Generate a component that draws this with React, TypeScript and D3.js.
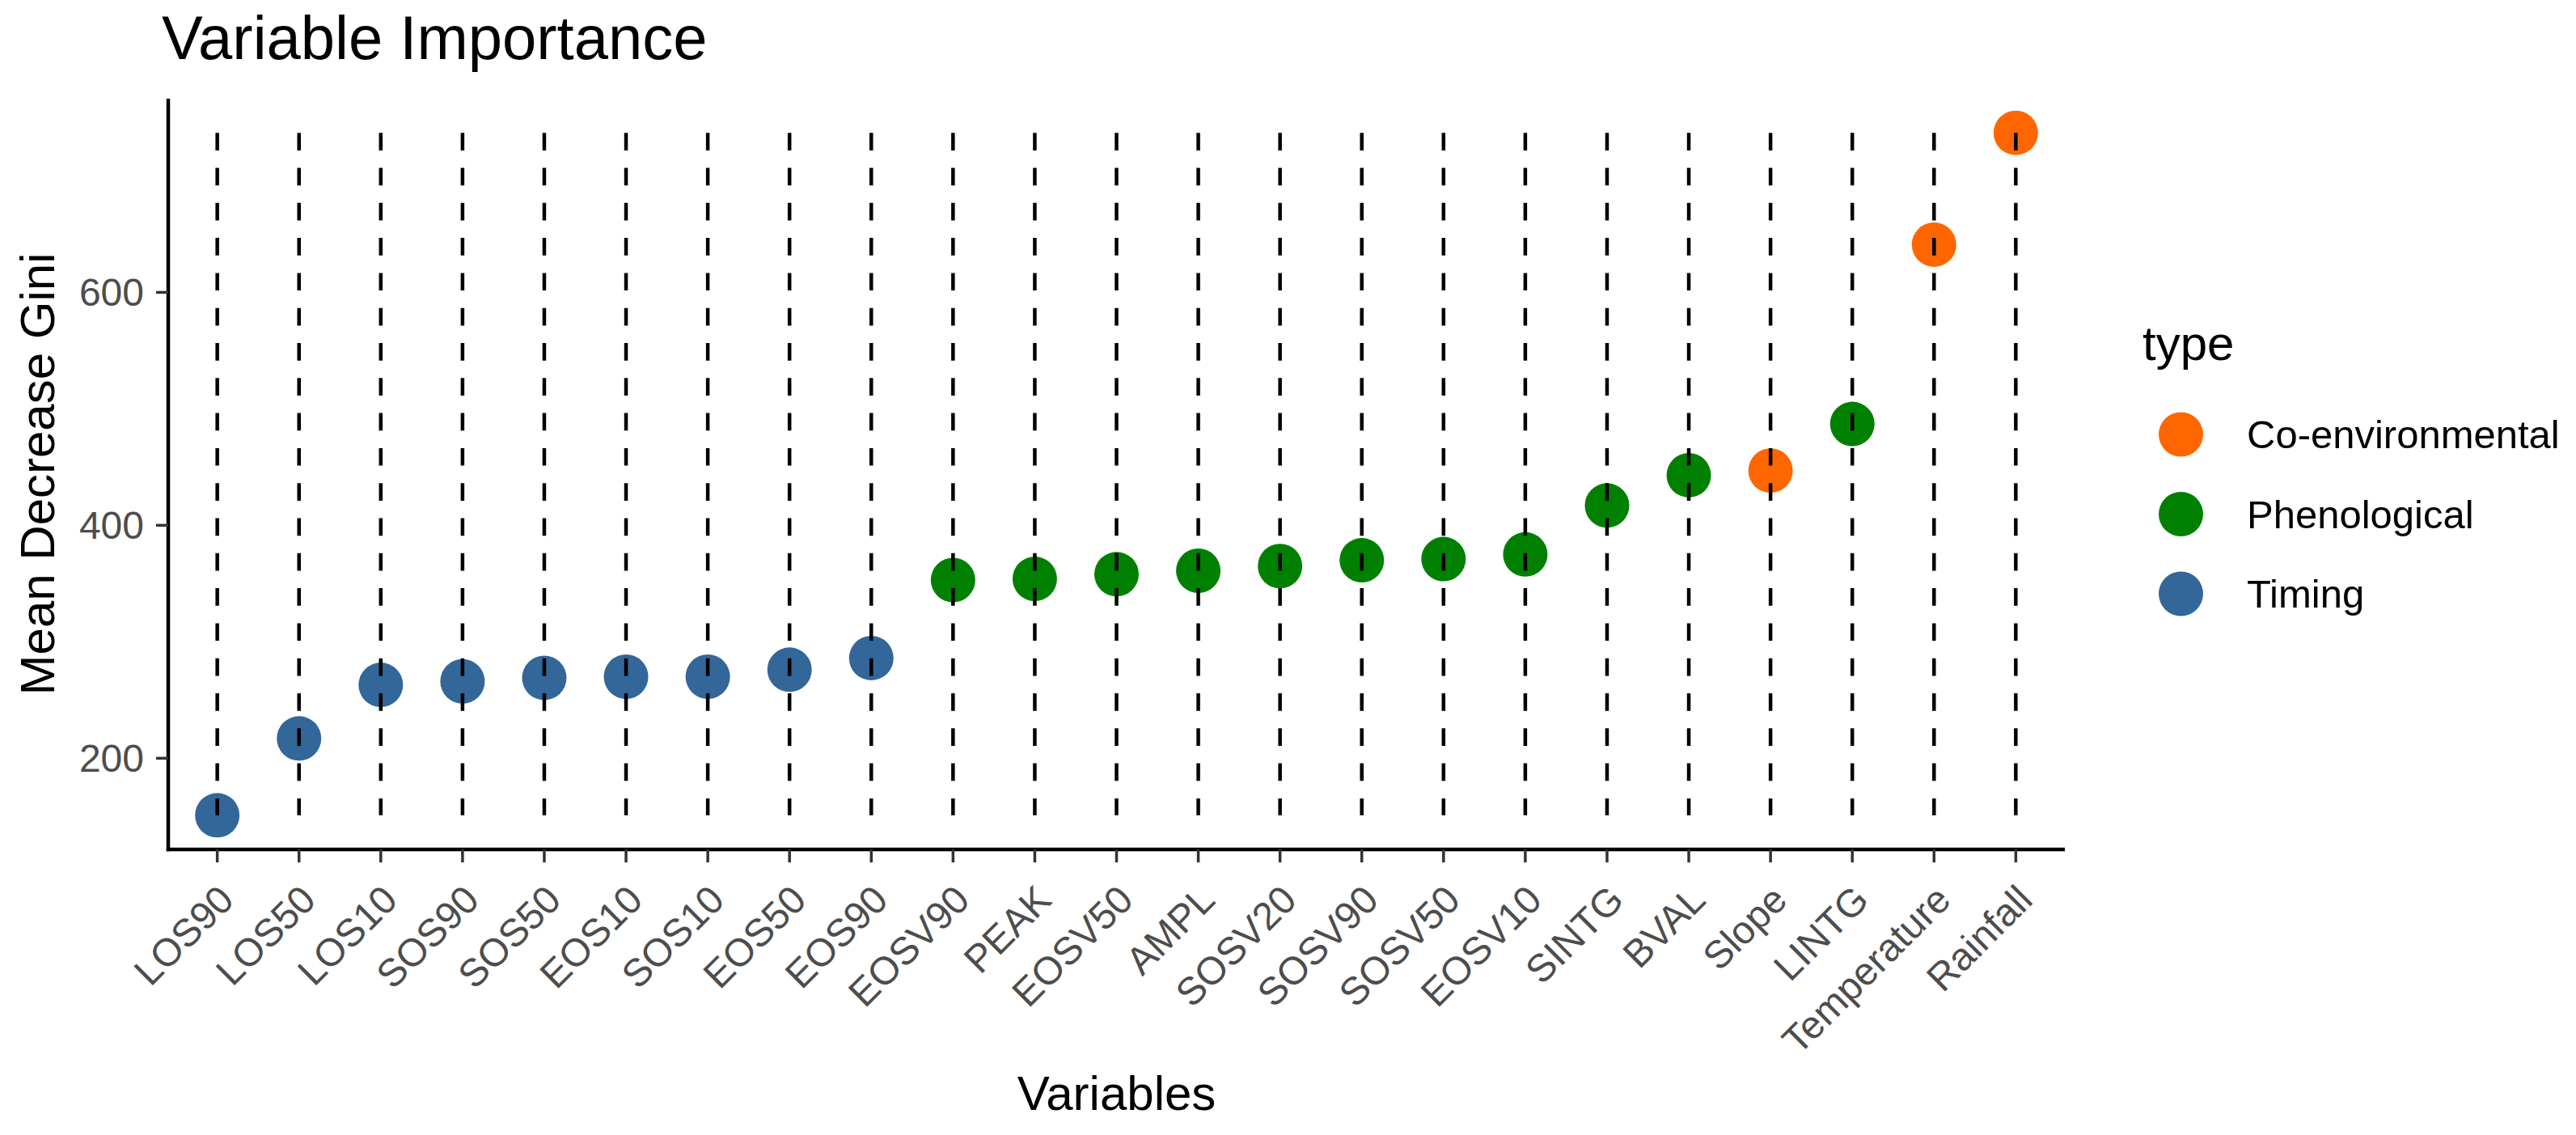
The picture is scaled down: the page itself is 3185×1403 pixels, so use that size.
import React from "react";
import * as d3 from "d3";

const variables = ["LOS90","LOS50","LOS10","SOS90","SOS50","EOS10","SOS10","EOS50","EOS90","EOSV90","PEAK","EOSV50","AMPL","SOSV20","SOSV90","SOSV50","EOSV10","SINTG","BVAL","Slope","LINTG","Temperature","Rainfall"];
const importance = [151,217,263,266,269,270,270,276,286,353,354,358,361,365,370,371,375,417,443,447,487,641,737];
const types = ["Timing","Timing","Timing","Timing","Timing","Timing","Timing","Timing","Timing","Phenological","Phenological","Phenological","Phenological","Phenological","Phenological","Phenological","Phenological","Phenological","Phenological","Co-environmental","Phenological","Co-environmental","Co-environmental"];
const typeLevels = ["Co-environmental","Phenological","Timing"];
const typeColors = ["#FF6600","#008000","#336699"];
const yTicks = [200,400,600];

const W = 3185, H = 1403;
const FONT = "'Liberation Sans', Arial, sans-serif";

export default function App() {
  const left = 208, right = 2553, top = 122, bottom = 1050;
  const x = d3.scalePoint<string>().domain(variables).range([left, right]).padding(0.6);
  const lo = d3.min(importance)!, hi = d3.max(importance)!;
  const pad = (hi - lo) * 0.05;
  const y = d3.scaleLinear().domain([lo - pad, hi + pad]).range([bottom, top]);
  const color = d3.scaleOrdinal<string, string>().domain(typeLevels).range(typeColors);
  const r = 27.5;

  return (
    <svg width={W} height={H} style={{ position: "absolute", left: 0, top: 0, background: "#fff" }} fontFamily={FONT}>
      <rect x={0} y={0} width={W} height={H} fill="#fff" />
      <text x={200} y={73} fontSize={76} fill="#000">Variable Importance</text>

      {/* points */}
      {variables.map((v, i) => (
        <circle key={"pt" + v} cx={x(v)} cy={y(importance[i])} r={r} fill={color(types[i])} />
      ))}
      {/* dashed segments drawn over the points */}
      {variables.map((v) => (
        <line key={"seg" + v} x1={x(v)} x2={x(v)} y1={y(hi)} y2={y(lo)} stroke="#000" strokeWidth={4.5} strokeDasharray="21.7 21.6" />
      ))}

      {/* axes */}
      <line x1={left} x2={left} y1={top} y2={bottom + 2.25} stroke="#000" strokeWidth={4.5} />
      <line x1={left - 2.25} x2={right} y1={bottom} y2={bottom} stroke="#000" strokeWidth={4.5} />

      {yTicks.map((t) => (
        <g key={"yt" + t}>
          <line x1={left - 15} x2={left} y1={y(t)} y2={y(t)} stroke="#333333" strokeWidth={3.5} />
          <text x={178} y={y(t)} dy="0.35em" textAnchor="end" fontSize={48} fill="#4D4D4D">{t}</text>
        </g>
      ))}

      {variables.map((v) => (
        <g key={"xt" + v}>
          <line x1={x(v)} x2={x(v)} y1={bottom} y2={bottom + 16} stroke="#333333" strokeWidth={3.5} />
          <text transform={`translate(${x(v)},${1092}) rotate(-45)`} textAnchor="end" dy="0.68em" fontSize={48} fill="#4D4D4D">{v}</text>
        </g>
      ))}

      <text x={(left + right) / 2} y={1372} textAnchor="middle" fontSize={60} fill="#000">Variables</text>
      <text transform={`translate(67,${(top + bottom) / 2}) rotate(-90)`} textAnchor="middle" fontSize={60} fill="#000">Mean Decrease Gini</text>

      {/* legend */}
      <text x={2649} y={445} fontSize={60} fill="#000">type</text>
      {typeLevels.map((t, i) => (
        <g key={"lg" + t}>
          <circle cx={2696.5} cy={537 + i * 98.5} r={r} fill={color(t)} />
          <text x={2778} y={537 + i * 98.5} dy="0.35em" fontSize={49} fill="#000">{t}</text>
        </g>
      ))}
    </svg>
  );
}
